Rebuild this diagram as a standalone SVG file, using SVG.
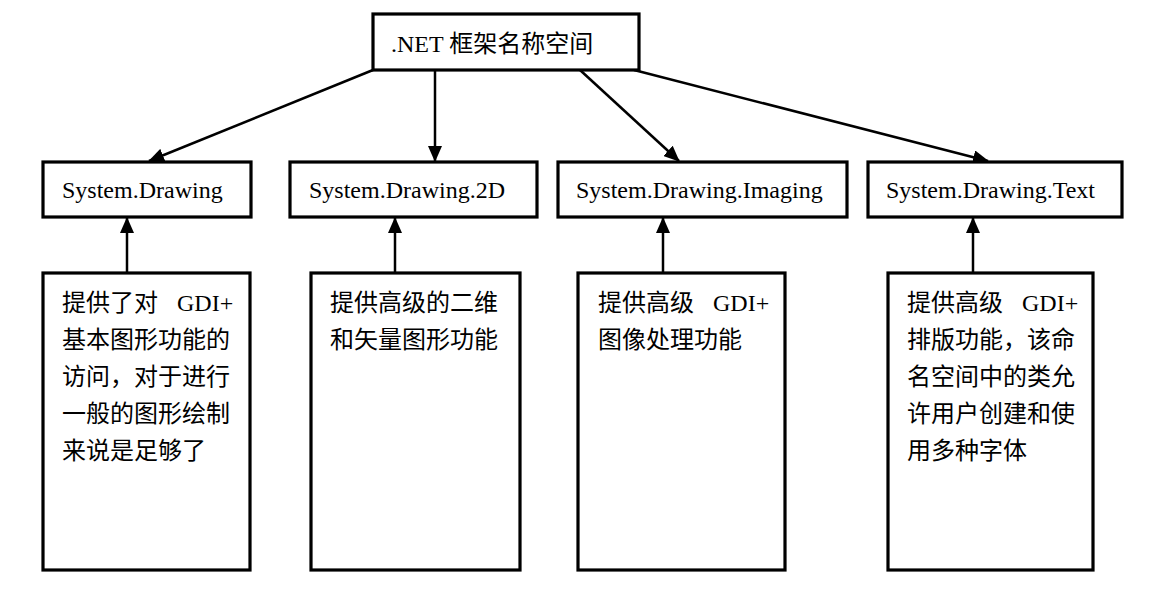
<svg xmlns="http://www.w3.org/2000/svg" width="1161" height="604" viewBox="0 0 1161 604">
<style>
.box{fill:#fff;stroke:#000;stroke-width:3.2}
.t{font-family:"Liberation Serif","Noto Sans CJK SC",serif;font-size:24px;fill:#000}
.c{stroke:#000;stroke-width:2.5;fill:none}
</style>
<defs>
<marker id="a" viewBox="0 0 16 14" refX="15" refY="7" markerWidth="16" markerHeight="14" orient="auto" markerUnits="userSpaceOnUse">
<path d="M0,0 L16,7 L0,14 Z" fill="#000"/>
</marker>
</defs>
<rect width="1161" height="604" fill="#fff"/>
<g id="connectors">
<line class="c" x1="373" y1="70" x2="149" y2="161" marker-end="url(#a)"/>
<line class="c" x1="435" y1="70" x2="435" y2="161" marker-end="url(#a)"/>
<line class="c" x1="580" y1="70" x2="679" y2="161" marker-end="url(#a)"/>
<line class="c" x1="634" y1="70" x2="988" y2="161" marker-end="url(#a)"/>
<line class="c" x1="127" y1="272" x2="127" y2="218" marker-end="url(#a)"/>
<line class="c" x1="395" y1="272" x2="395" y2="218" marker-end="url(#a)"/>
<line class="c" x1="663" y1="272" x2="663" y2="218" marker-end="url(#a)"/>
<line class="c" x1="973" y1="272" x2="973" y2="218" marker-end="url(#a)"/>
</g>
<g id="root">
<rect class="box" x="373" y="14" width="266" height="56"/>
<text class="t" x="391" y="52">.NET 框架名称空间</text>
</g>
<g id="drawing">
<rect class="box" x="43" y="162" width="208" height="55"/>
<text class="t" x="62" y="198">System.Drawing</text>
</g>
<g id="drawing2d">
<rect class="box" x="290" y="162" width="247" height="55"/>
<text class="t" x="309" y="198">System.Drawing.2D</text>
</g>
<g id="imaging">
<rect class="box" x="558" y="162" width="289" height="55"/>
<text class="t" x="576" y="198">System.Drawing.Imaging</text>
</g>
<g id="text">
<rect class="box" x="868" y="162" width="254" height="55"/>
<text class="t" x="886" y="198">System.Drawing.Text</text>
</g>
<g id="desc-drawing">
<rect class="box" x="43" y="273" width="207" height="297"/>
<text class="t"><tspan x="62" y="311">提供了对</tspan><tspan x="177" y="311">GDI+</tspan><tspan x="62" y="348">基本图形功能的</tspan><tspan x="62" y="385">访问，对于进行</tspan><tspan x="62" y="422">一般的图形绘制</tspan><tspan x="62" y="459">来说是足够了</tspan></text>
</g>
<g id="desc-2d">
<rect class="box" x="311" y="273" width="209" height="297"/>
<text class="t"><tspan x="330" y="311">提供高级的二维</tspan><tspan x="330" y="348">和矢量图形功能</tspan></text>
</g>
<g id="desc-imaging">
<rect class="box" x="578" y="273" width="207" height="297"/>
<text class="t"><tspan x="598" y="311">提供高级</tspan><tspan x="713" y="311">GDI+</tspan><tspan x="598" y="348">图像处理功能</tspan></text>
</g>
<g id="desc-text">
<rect class="box" x="888" y="273" width="205" height="297"/>
<text class="t"><tspan x="907" y="311">提供高级</tspan><tspan x="1022" y="311">GDI+</tspan><tspan x="907" y="348">排版功能，该命</tspan><tspan x="907" y="385">名空间中的类允</tspan><tspan x="907" y="422">许用户创建和使</tspan><tspan x="907" y="459">用多种字体</tspan></text>
</g>
</svg>
